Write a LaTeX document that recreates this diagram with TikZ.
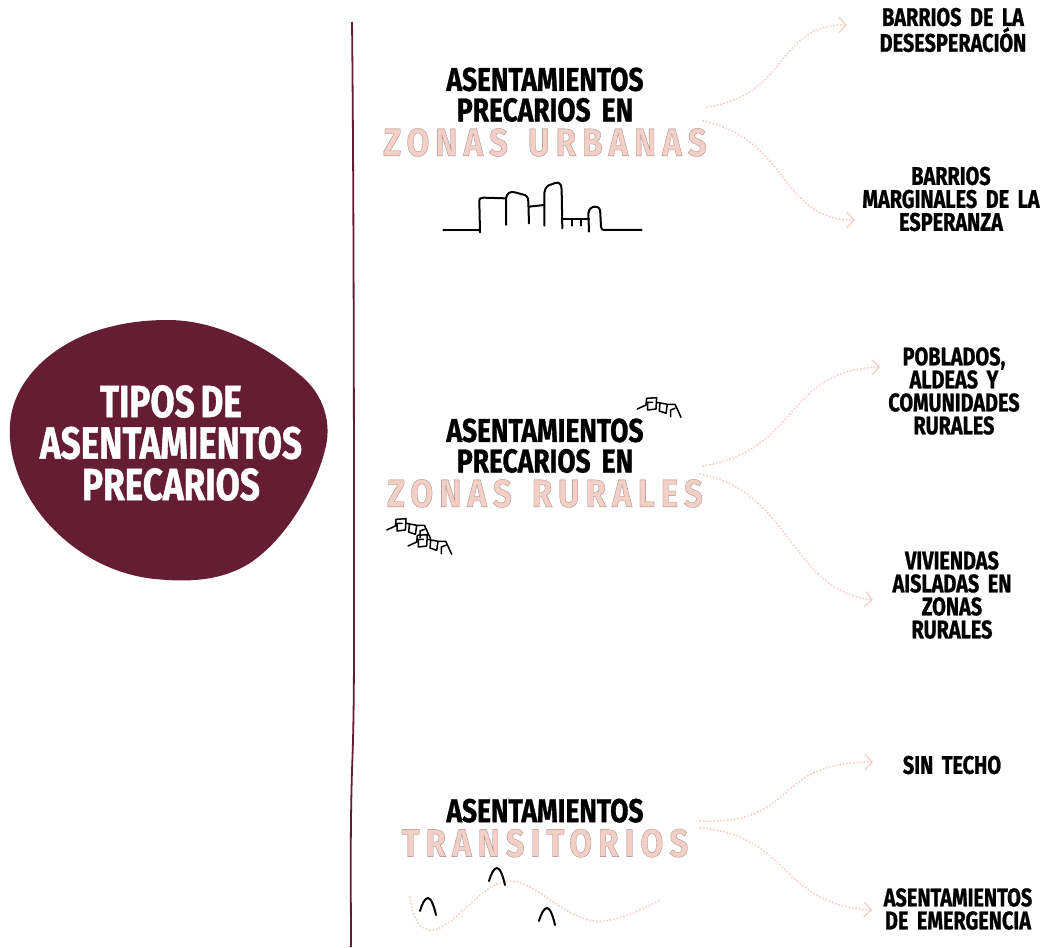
\documentclass[tikz,border=0pt]{standalone}
\usepackage{fontspec}
\setmainfont{Fira Sans}
\newfontfamily\brush[FakeStretch=0.78,FakeBold=0.9,WordSpace=0.7,UprightFont=* Bold,BoldFont=* Bold]{Fira Sans}
\newfontfamily\brushT[FakeStretch=0.8,FakeBold=0.9,WordSpace=0.7,UprightFont=* Bold,BoldFont=* Bold]{Fira Sans}
\newfontfamily\brushwide[FakeStretch=0.85,LetterSpace=15.5,UprightFont=* Bold]{Fira Sans}
\usetikzlibrary{arrows.meta}
\definecolor{vino}{HTML}{651D33}
\definecolor{rosa}{HTML}{F4CFC6}
\definecolor{rosadot}{HTML}{F5C9BD}
\newcommand{\rosado}[1]{{\brushwide\fontsize{39}{39}\selectfont\color{rosa}\special{pdf:code 2 Tr 0.3 w 0.6 0.53 0.52 RG}#1\special{pdf:code 0 Tr}}}
\tikzset{
  tituloblock/.style={align=center,text width=330pt,inner sep=0pt,font=\brushT\fontsize{33}{30.5}\selectfont},
  etiqueta/.style={align=center,text width=190pt,inner sep=0pt,font=\brush\fontsize{25.5}{23}\selectfont},
  conector/.style={draw=rosadot,line width=2pt,line cap=round,dash pattern=on 0.05pt off 3.4pt,
    -{Straight Barb[length=7pt,width=15pt,line width=1.1pt,color=rosadot]}},
  punteado/.style={draw=rosadot,line width=2pt,line cap=round,dash pattern=on 0.05pt off 3.4pt},
  trazo/.style={draw=black,line width=2pt,line cap=round,line join=round},
  casita/.pic={\draw[black,line width=1.5pt,line cap=round,line join=round]
    (0,0)--(8.7,-4)--(9.3,-10.7)--(19.3,-11.3)--(18.7,0)--(10.3,1)--(10.3,-6.7)--(15.3,-6.7)
    (19.3,-6.7)--(30,-4.7)--(28.7,4.3)--(22,2)--(22.7,-5.7)
    (30,-4.7)--(37.7,-4.7)--(43.7,8.3)
    (37.7,-0.7)--(33.3,1)--(33.3,7.7);},
  tienda/.pic={\draw[trazo,line width=2pt]
    (-8,13) .. controls (-6,6) and (-3,0) .. (0,0) .. controls (3,0) and (6,8) .. (8,17);}
}
\begin{document}
\begin{tikzpicture}[x=1pt,y=-1pt]
\useasboundingbox (0,0) rectangle (1043,947);
\fill[white] (0,0) rectangle (1043,947);
% blob
\fill[vino] (168,320) .. controls (215,320) and (265,345) .. (300,375)
  .. controls (325,395) and (332,425) .. (325,450)
  .. controls (315,490) and (285,540) .. (250,563)
  .. controls (220,582) and (185,582) .. (155,579)
  .. controls (115,575) and (75,555) .. (45,520)
  .. controls (20,490) and (8,455) .. (10,425)
  .. controls (12,385) and (45,350) .. (90,333)
  .. controls (115,324) and (140,320) .. (168,320) -- cycle;
\node[align=center,inner sep=0pt,text=white,font=\brush\fontsize{45}{41.5}\selectfont] (raiz) at (171,443)
  {TIPOS DE\\ASENTAMIENTOS\\PRECARIOS};
% vertical line
\draw[vino,line width=1.8pt] (352,22) .. controls (354,200) and (354,500) .. (354,600)
  .. controls (354,680) and (354,720) .. (352,770) .. controls (350,840) and (351,900) .. (351,947);
% titles
\node[tituloblock] (urb) at (545,112) {ASENTAMIENTOS\\PRECARIOS EN\\[4pt]\rosado{ZONAS\hspace{20pt}URBANAS}};
\node[tituloblock] (rur) at (545,463) {ASENTAMIENTOS\\PRECARIOS EN\\[4pt]\rosado{ZONAS\hspace{20pt}RURALES}};
\node[tituloblock] (tra) at (545,828) {ASENTAMIENTOS\\[4pt]\rosado{TRANSITORIOS}};
% labels
\node[etiqueta] (a) at (953,30) {BARRIOS DE LA\\DESESPERACIÓN};
\node[etiqueta] (b) at (951,199) {BARRIOS\\MARGINALES DE LA\\ESPERANZA};
\node[etiqueta] (c) at (954,391) {POBLADOS,\\ALDEAS Y\\COMUNIDADES\\RURALES};
\node[etiqueta] (d) at (952,595) {VIVIENDAS\\AISLADAS EN\\ZONAS\\RURALES};
\node[etiqueta] (e) at (952,765) {SIN TECHO};
\node[etiqueta] (f) at (958,909) {ASENTAMIENTOS\\DE EMERGENCIA};
% connectors
\draw[conector] ([xshift=-3pt,yshift=5pt]urb.east) .. controls (790,95) and (775,25) .. ([xshift=-11pt,yshift=5pt]a.west);
\draw[conector] ([xshift=-7pt,yshift=-9pt]urb.east) .. controls (790,140) and (780,220) .. ([xshift=-1pt,yshift=-21pt]b.west);
\draw[conector] ([xshift=-7pt,yshift=-3pt]rur.east) .. controls (800,450) and (785,370) .. ([xshift=21pt,yshift=24pt]c.west);
\draw[conector] ([xshift=-10pt,yshift=-11pt]rur.east) .. controls (790,490) and (790,590) .. ([xshift=16pt,yshift=-5pt]d.west);
\draw[conector] ([xshift=-10pt,yshift=7pt]tra.east) .. controls (800,825) and (770,762) .. ([xshift=16pt,yshift=3pt]e.west);
\draw[conector] ([xshift=-10pt,yshift=0pt]tra.east) .. controls (790,835) and (780,905) .. ([xshift=9pt,yshift=-1pt]f.west);
% skyline
\begin{scope}[shift={(435,175)},x=0.3333pt,y=-0.3333pt]
\draw[trazo] (25,165)--(135,165);
\draw[trazo] (135,172)--(133,80) .. controls (133,70) and (136,68) .. (145,68) -- (212,70);
\draw[trazo] (213,150)--(213,70) .. controls (216,55) and (225,48) .. (240,52) -- (262,58) .. controls (275,60) and (280,68) .. (280,80) -- (282,145);
\draw[trazo] (282,95)--(328,90);
\draw[trazo] (328,152)--(328,55) .. controls (330,35) and (340,30) .. (350,28) .. controls (365,22) and (378,15) .. (380,45) -- (382,160);
\draw[trazo] (382,132)--(462,132);
\draw[trazo] (410,132)--(410,152) (437,132)--(437,152);
\draw[trazo] (462,170)--(460,115) .. controls (462,100) and (472,95) .. (480,95) .. controls (492,95) and (496,102) .. (496,115) -- (498,155) .. controls (499,164) and (502,166) .. (510,165) -- (620,165);
\end{scope}
% houses
\pic at (637.3,409) {casita};
\pic at (386.7,530) {casita};
\pic at (408,546) {casita};
% tents and dotted path
\draw[punteado] (410,897) .. controls (413,925) and (425,935) .. (440,928) .. controls (465,915) and (485,880) .. (512,881) .. controls (540,884) and (570,925) .. (605,921) .. controls (625,918) and (645,908) .. (660,900);
\pic at (428,898) {tienda};
\pic at (497,868) {tienda};
\pic at (547,908) {tienda};
\end{tikzpicture}
\end{document}
